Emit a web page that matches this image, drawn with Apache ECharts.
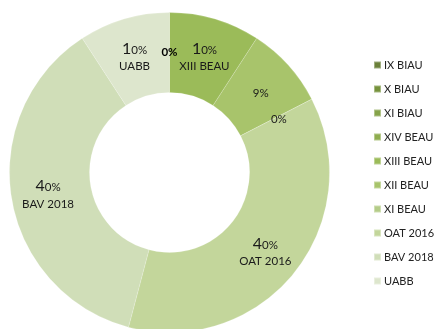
<!DOCTYPE html>
<html>
<head>
<meta charset="utf-8">
<script src="https://cdn.jsdelivr.net/npm/echarts@6/dist/echarts.min.js"></script>
<style>
  html, body { margin: 0; padding: 0; background: #ffffff; }
  #chart { width: 437px; height: 329px; }
</style>
</head>
<body>
<div id="chart"></div>
<script>
// Slice categories, clockwise from 12 o'clock (also the legend order)
const categories = ['IX BIAU', 'X BIAU', 'XI BIAU', 'XIV BEAU', 'XIII BEAU',
                    'XII BEAU', 'XI BEAU', 'OAT 2016', 'BAV 2018', 'UABB'];
// Percentage share of each category
const shares = [0, 0, 0, 0, 10, 9, 0, 40, 40, 10];
// Categories whose name is printed under the percentage
const namedSlices = ['XIII BEAU', 'OAT 2016', 'BAV 2018', 'UABB'];
// Green ramp, dark to light
const palette = ['#6B803A', '#76923C', '#86A34A', '#8FAD4F', '#9BBB59',
                 '#A8C46B', '#B4CC88', '#C3D69B', '#D0DEB8', '#DDE6CD'];

const FONT = 'Lato, "Liberation Sans", sans-serif';

function sliceLabel(p) {
  const txt = String(p.value);
  let head;
  if (txt.length > 1) {
    head = '{big|' + txt.charAt(0) + '}{sm|' + txt.slice(1) + '%}';
  } else if (p.value === 0 && p.dataIndex < 4) {
    // zero slices stacked at 12 o'clock: their labels sit on top of each other
    head = '{pctb|' + txt + '%}';
  } else {
    head = '{pct|' + txt + '%}';
  }
  if (namedSlices.indexOf(p.name) >= 0) {
    return head + '\n{nm|' + p.name + '}';
  }
  return head;
}

const chart = echarts.init(document.getElementById('chart'), null, { renderer: 'canvas' });

chart.setOption({
  animation: false,
  backgroundColor: '#ffffff',
  color: palette,
  legend: {
    orient: 'vertical',
    left: 373,
    top: 58,
    padding: 0,
    itemWidth: 7,
    itemHeight: 7,
    itemGap: 10,
    icon: 'rect',
    data: categories,
    textStyle: {
      fontFamily: FONT,
      fontSize: 11,
      color: '#222222',
      lineHeight: 14,
      padding: [0, 0, 0, -2]
    }
  },
  series: [{
    type: 'pie',
    center: [169.5, 172.5],
    radius: [80, 160],
    startAngle: 90,
    clockwise: true,
    avoidLabelOverlap: false,
    minShowLabelAngle: 0,
    itemStyle: { borderColor: 'rgba(255,255,255,0.35)', borderWidth: 0.5 },
    label: {
      show: true,
      position: 'inside',
      formatter: sliceLabel,
      color: '#1a1a1a',
      fontFamily: FONT,
      align: 'center',
      offset: [0, 3],
      rich: {
        big:  { fontFamily: FONT, fontSize: 16, color: '#1a1a1a', lineHeight: 18 },
        sm:   { fontFamily: FONT, fontSize: 11.5, color: '#1a1a1a', lineHeight: 18, padding: [3, 0, 0, 0] },
        pct:  { fontFamily: FONT, fontSize: 11.5, color: '#1a1a1a', lineHeight: 18 },
        pctb: { fontFamily: FONT, fontSize: 11.5, fontWeight: 'bold', color: '#000000', lineHeight: 18 },
        nm:   { fontFamily: FONT, fontSize: 11.5, color: '#1a1a1a', lineHeight: 18 }
      }
    },
    labelLine: { show: false },
    emphasis: { disabled: true },
    data: categories.map((c, i) => ({ name: c, value: shares[i] }))
  }]
});
</script>
</body>
</html>
